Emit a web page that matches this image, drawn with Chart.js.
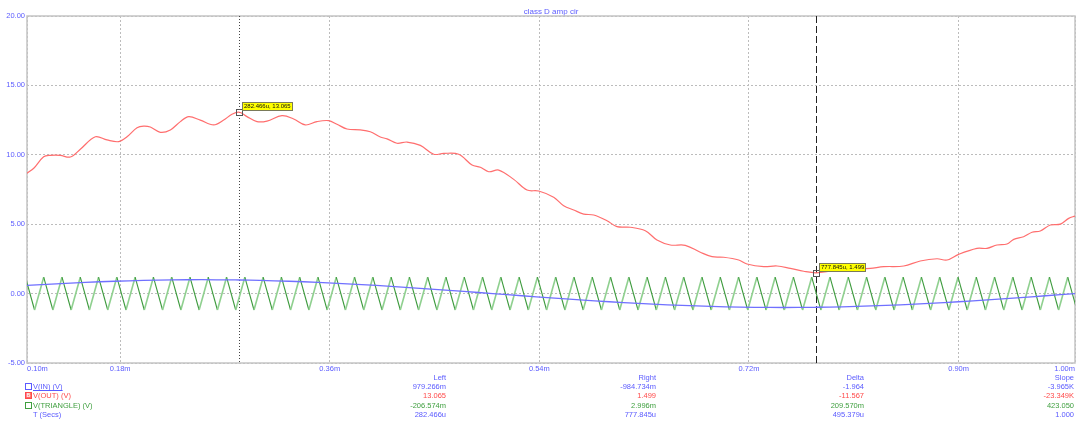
<!DOCTYPE html>
<html>
<head>
<meta charset="utf-8">
<script src="https://cdn.jsdelivr.net/npm/chart.js@4.4.1/dist/chart.umd.min.js"></script>
<style>
  html, body { margin: 0; padding: 0; background: #ffffff; }
  #wrap { position: relative; width: 1089px; height: 423px; overflow: hidden; }
  #plot { position: absolute; left: 0; top: 0; width: 1089px; height: 423px; }
  #readout { position: absolute; left: 0; top: 0; width: 1089px; height: 423px;
             font-family: "Liberation Sans", Arial, sans-serif; font-size: 7.5px; pointer-events: none; }
  #readout span { position: absolute; white-space: nowrap; line-height: 9px; }
  #readout .box { width: 5px; height: 5px; border-width: 1px; border-style: solid; line-height: 5px; font-size: 5px;
                  text-align: center; font-weight: bold; }
</style>
</head>
<body>
<div id="wrap">
  <canvas id="plot" width="1089" height="423"></canvas>
  <div id="readout"></div>
</div>
<script>
// ---- time axis (ms) ----
const xTickValues = [0.10, 0.18, 0.36, 0.54, 0.72, 0.90, 1.00];
const yTickValues = [-5, 0, 5, 10, 15, 20];

// ---- V(IN): input sine ----
const vinTimes  = [0.100, 0.125, 0.150, 0.175, 0.200, 0.225, 0.250, 0.275, 0.300, 0.325, 0.350, 0.375,
                   0.400, 0.425, 0.450, 0.475, 0.500, 0.525, 0.550, 0.575, 0.600, 0.625, 0.650, 0.675,
                   0.700, 0.725, 0.750, 0.775, 0.800, 0.825, 0.850, 0.875, 0.900, 0.925, 0.950, 0.975, 1.000];
const vinValues = [0.588, 0.707, 0.809, 0.891, 0.951, 0.988, 1.000, 0.988, 0.951, 0.891, 0.809, 0.707,
                   0.588, 0.454, 0.309, 0.156, 0.000, -0.156, -0.309, -0.454, -0.588, -0.707, -0.809, -0.891,
                   -0.951, -0.988, -1.000, -0.988, -0.951, -0.891, -0.809, -0.707, -0.588, -0.454, -0.309, -0.156, 0.000];

// ---- V(OUT): filtered class D output ----
const voutTimes  = [0.1000, 0.1058, 0.1143, 0.1200, 0.1286, 0.1372, 0.1458, 0.1587, 0.1687, 0.1788, 0.1859,
                    0.1945, 0.2002, 0.2059, 0.2145, 0.2231, 0.2317, 0.2389, 0.2488, 0.2603, 0.2689, 0.2760,
                    0.2889, 0.2975, 0.3061, 0.3190, 0.3290, 0.3390, 0.3490, 0.3591, 0.3662, 0.3748, 0.3862,
                    0.3948, 0.4034, 0.4092, 0.4177, 0.4263, 0.4378, 0.4493, 0.4578, 0.4707, 0.4822, 0.4893,
                    0.4965, 0.5051, 0.5180, 0.5294, 0.5394, 0.5523, 0.5609, 0.5695, 0.5781, 0.5867, 0.5981,
                    0.6067, 0.6181, 0.6310, 0.6410, 0.6525, 0.6653, 0.6782, 0.6883, 0.6983, 0.7112, 0.7183,
                    0.7327, 0.7441, 0.7555, 0.7670, 0.7928, 0.8100, 0.8242, 0.8357, 0.8529, 0.8671, 0.8815,
                    0.8901, 0.9001, 0.9158, 0.9244, 0.9330, 0.9416, 0.9474, 0.9559, 0.9631, 0.9702, 0.9788,
                    0.9874, 0.9946, 1.0000];
const voutValues = [8.67, 9.03, 9.86, 9.96, 9.96, 9.84, 10.40, 11.30, 11.07, 10.95, 11.30,
                    11.95, 12.07, 12.00, 11.62, 11.79, 12.39, 12.75, 12.50, 12.15, 12.50, 12.92,
                    12.75, 12.39, 12.43, 12.82, 12.58, 12.15, 12.39, 12.46, 12.20, 11.86, 11.79,
                    11.66, 11.28, 11.15, 10.83, 10.92, 10.68, 10.04, 10.10, 10.04, 9.26, 9.10,
                    8.78, 8.90, 8.23, 7.46, 7.39, 6.94, 6.33, 6.02, 5.73, 5.66, 5.25,
                    4.82, 4.78, 4.53, 3.86, 3.50, 3.48, 2.98, 2.66, 2.62, 2.42, 2.13,
                    1.94, 1.99, 1.82, 1.61, 1.65, 1.75, 1.82, 1.94, 1.99, 2.35, 2.51,
                    2.42, 2.83, 3.26, 3.26, 3.50, 3.57, 3.91, 4.10, 4.42, 4.51, 4.94,
                    5.01, 5.42, 5.59];

// ---- V(TRIANGLE): carrier corners ----
const triPeakTimes = [0.09864, 0.11434, 0.13004, 0.14575, 0.16145, 0.17716, 0.19286, 0.20856, 0.22427, 0.23997,
                      0.25568, 0.27138, 0.28708, 0.30279, 0.31849, 0.33420, 0.34990, 0.36560, 0.38131, 0.39701,
                      0.41272, 0.42842, 0.44412, 0.45983, 0.47553, 0.49124, 0.50694, 0.52264, 0.53835, 0.55405,
                      0.56976, 0.58546, 0.60116, 0.61687, 0.63257, 0.64828, 0.66398, 0.67968, 0.69539, 0.71109,
                      0.72680, 0.74250, 0.75820, 0.77391, 0.78961, 0.80532, 0.82102, 0.83672, 0.85243, 0.86813,
                      0.88384, 0.89954, 0.91524, 0.93095, 0.94665, 0.96236, 0.97806, 0.99376];
const triTroughTimes = [0.10649, 0.12219, 0.13790, 0.15360, 0.16930, 0.18501, 0.20071, 0.21642, 0.23212, 0.24782,
                        0.26353, 0.27923, 0.29494, 0.31064, 0.32634, 0.34205, 0.35775, 0.37346, 0.38916, 0.40486,
                        0.42057, 0.43627, 0.45198, 0.46768, 0.48338, 0.49909, 0.51479, 0.53050, 0.54620, 0.56190,
                        0.57761, 0.59331, 0.60902, 0.62472, 0.64042, 0.65613, 0.67183, 0.68754, 0.70324, 0.71894,
                        0.73465, 0.75035, 0.76606, 0.78176, 0.79746, 0.81317, 0.82887, 0.84458, 0.86028, 0.87598,
                        0.89169, 0.90739, 0.92310, 0.93880, 0.95450, 0.97021, 0.98591, 1.00162];
const triPeakLevel = 1.18;
const triTroughLevel = -1.18;

// ---- cursors (left, right) ----
const cursorTimes = [0.282466, 0.777845];
const cursorVin   = [0.979266, -0.984734];
const cursorVout  = [13.0654, 1.4986];
const cursorVtri  = [-0.206574, 0.002996];

const seriesNames  = ['V(IN) (V)', 'V(OUT) (V)', 'V(TRIANGLE) (V)', 'T (Secs)'];
const seriesColors = ['#5a5aff', '#ff4a4a', '#3f9f3f', '#5a5aff'];
const readoutHeads = ['Left', 'Right', 'Delta', 'Slope'];

// merge a series with the cursor samples, sorted in time
function points(times, values, extraT, extraV) {
  const pts = times.map((t, i) => ({ x: t, y: values[i] }));
  extraT.forEach((t, i) => pts.push({ x: t, y: extraV[i] }));
  return pts.sort((a, b) => a.x - b.x);
}

const triTimes = [], triValues = [];
triPeakTimes.forEach((t, i) => {
  triTimes.push(t); triValues.push(triPeakLevel);
  triTimes.push(triTroughTimes[i]); triValues.push(triTroughLevel);
});

const vinData  = points(vinTimes, vinValues, cursorTimes, cursorVin);
const voutData = points(voutTimes, voutValues, cursorTimes, cursorVout);
const triData  = points(triTimes, triValues, cursorTimes, cursorVtri);

const FONT = '"Liberation Sans", Arial, sans-serif';
const AXIS_BLUE = '#5c5cff';

function eng(v) {
  const a = Math.abs(v);
  if (a >= 1000) return (v / 1000).toFixed(3) + 'K';
  if (a >= 1 || a === 0) return v.toFixed(3);
  if (a >= 1e-3) return (v * 1e3).toFixed(3) + 'm';
  return (v * 1e6).toFixed(3) + 'u';
}

// frame, cursor lines, cursor markers and their tags
const cursorPlugin = {
  id: 'cursorPlugin',
  beforeDatasetsDraw(chart) {
    const { ctx, chartArea: a, scales } = chart;
    ctx.save();
    ctx.strokeStyle = '#c4c4c4';
    ctx.lineWidth = 1.5;
    ctx.strokeRect(a.left, a.top, a.right - a.left, a.bottom - a.top);
    const styles = [[1, 2], [7, 3]];
    cursorTimes.forEach((t, i) => {
      const x = Math.round(scales.x.getPixelForValue(t)) + 0.5;
      ctx.beginPath();
      ctx.setLineDash(styles[i]);
      ctx.strokeStyle = i === 0 ? '#444444' : '#222222';
      ctx.lineWidth = 1;
      ctx.moveTo(x, a.top);
      ctx.lineTo(x, a.bottom);
      ctx.stroke();
    });
    ctx.restore();
  },
  afterDatasetsDraw(chart) {
    const { ctx, scales } = chart;
    ctx.save();
    ctx.setLineDash([]);
    cursorTimes.forEach((t, i) => {
      const px = scales.x.getPixelForValue(t);
      const py = scales.y.getPixelForValue(cursorVout[i]);
      ctx.strokeStyle = '#555555';
      ctx.lineWidth = 1;
      ctx.strokeRect(Math.round(px) - 2.5, Math.round(py) - 2.5, 6, 6);
      const text = (t * 1000).toFixed(3) + 'u, ' + cursorVout[i].toFixed(3);
      ctx.font = '6px ' + FONT;
      const w = Math.round(ctx.measureText(text).width + 3);
      const bx = Math.round(px) + 3.5, by = Math.round(py) - 9.5;
      ctx.fillStyle = '#ffff00';
      ctx.fillRect(bx, by, w, 8);
      ctx.strokeStyle = '#7a7a5a';
      ctx.strokeRect(bx, by, w, 8);
      ctx.fillStyle = '#111111';
      ctx.textBaseline = 'middle';
      ctx.fillText(text, bx + 1.5, by + 4.3);
    });
    ctx.restore();
  }
};

const gridStyle = { color: '#bcbcbc', lineWidth: 1, drawTicks: false, borderDash: [2, 2] };

new Chart(document.getElementById('plot'), {
  type: 'line',
  data: {
    datasets: [
      { label: seriesNames[1], data: voutData, borderColor: '#ff6e6e', borderWidth: 1.2,
        pointRadius: 0, tension: 0.35, order: 0 },
      { label: seriesNames[0], data: vinData, borderColor: '#7070ff', borderWidth: 1.3,
        pointRadius: 0, tension: 0.3, order: 1 },
      { label: seriesNames[2], data: triData, borderColor: '#58b058', borderWidth: 1.2,
        pointRadius: 0, tension: 0, order: 2,
        segment: {
          borderColor: c => c.p1.parsed.y > c.p0.parsed.y ? '#8fd08f' : '#3c9a3c',
          borderWidth: c => c.p1.parsed.y > c.p0.parsed.y ? 1.6 : 1.1
        } }
    ]
  },
  options: {
    responsive: false,
    animation: false,
    events: [],
    layout: { autoPadding: false, padding: { left: 0, right: 14, top: 0, bottom: 0 } },
    plugins: {
      legend: { display: false },
      tooltip: { enabled: false },
      title: {
        display: true, text: 'class D amp cir', color: AXIS_BLUE, fullSize: false,
        font: { family: FONT, size: 8, weight: 'normal', lineHeight: 1.125 },
        padding: { top: 7, bottom: 0 }
      }
    },
    scales: {
      x: {
        type: 'linear', min: 0.1, max: 1.0,
        afterBuildTicks: s => { s.ticks = xTickValues.map(v => ({ value: v })); },
        afterFit: s => { s.height = 60; },
        grid: gridStyle,
        border: { display: false, dash: [2, 2] },
        ticks: { color: AXIS_BLUE, font: { family: FONT, size: 7.5 }, padding: 1,
                 maxRotation: 0, autoSkip: false, align: 'inner',
                 callback: v => v.toFixed(2) + 'm' }
      },
      y: {
        min: -5, max: 20,
        afterBuildTicks: s => { s.ticks = yTickValues.map(v => ({ value: v })); },
        afterFit: s => { s.width = 27; },
        grid: gridStyle,
        border: { display: false, dash: [2, 2] },
        ticks: { color: AXIS_BLUE, font: { family: FONT, size: 7.5 }, padding: 2,
                 callback: v => v.toFixed(2) }
      }
    }
  },
  plugins: [cursorPlugin]
});

// ---- cursor readout table ----
const readout = document.getElementById('readout');
const colRight = [446, 656, 864, 1074];
const rowMid = [377.4, 386.8, 395.8, 405.2, 414.6];

function span(text, css) {
  const s = document.createElement('span');
  s.textContent = text;
  Object.assign(s.style, css);
  readout.appendChild(s);
  return s;
}

readoutHeads.forEach((h, c) => {
  span(h, { right: (1089 - colRight[c]) + 'px', top: (rowMid[0] - 4.5) + 'px', color: AXIS_BLUE });
});

const dt = cursorTimes[1] - cursorTimes[0];
const rowsL = [cursorVin[0], cursorVout[0], cursorVtri[0], cursorTimes[0] / 1000];
const rowsR = [cursorVin[1], cursorVout[1], cursorVtri[1], cursorTimes[1] / 1000];

seriesNames.forEach((name, r) => {
  const y = rowMid[r + 1] - 4.5;
  const col = seriesColors[r];
  if (r < 3) {
    const b = span(r === 1 ? 'B' : '', { left: '25px', top: (y + 1) + 'px',
      color: '#ffffff', background: r === 1 ? '#ff6a6a' : 'transparent' });
    b.className = 'box';
    b.style.borderColor = col;
  }
  const label = span(name, { left: '33px', top: y + 'px', color: col });
  if (r === 0) label.style.textDecoration = 'underline';
  const left = rowsL[r], right = rowsR[r], delta = right - left;
  const slope = r === 3 ? 1 : delta / (dt / 1000);
  [eng(left), eng(right), eng(delta), eng(slope)].forEach((txt, c) => {
    span(txt, { right: (1089 - colRight[c]) + 'px', top: y + 'px', color: col });
  });
});
</script>
</body>
</html>
